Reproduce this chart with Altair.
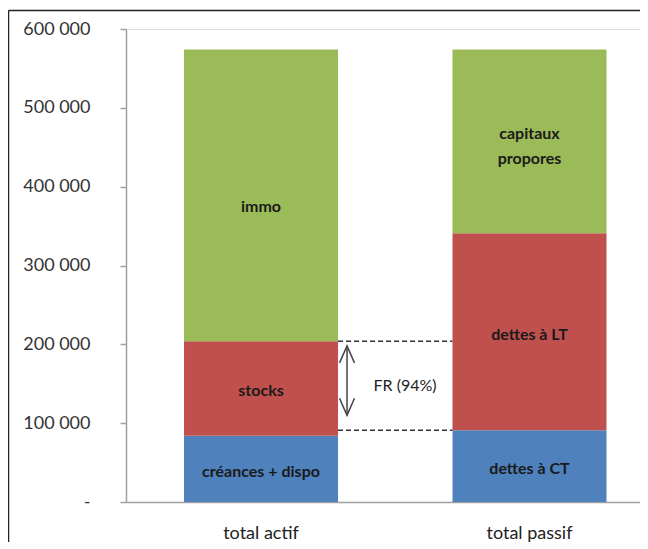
import altair as alt
import pandas as pd

categories = ["total actif", "total actif", "total actif",
              "total passif", "total passif", "total passif"]
segments = ["créances + dispo", "stocks", "immo",
            "dettes à CT", "dettes à LT", "capitaux\npropores"]
values = [84000, 120000, 370000, 91000, 250000, 233000]
levels = [1, 2, 3, 1, 2, 3]
colors = ["#4F81BD", "#C0504D", "#9BBB59"]
y_ticks = [0, 100000, 200000, 300000, 400000, 500000, 600000]
fr_label = "FR (94%)"
arrow_tips = [198000, 110000]

df = pd.DataFrame({"cat": categories, "seg": segments, "val": values, "lvl": levels})

fr_top = values[0] + values[1]
fr_bottom = values[3]
fr_df = pd.DataFrame({"from": ["total actif", "total actif"],
                      "to": ["total passif", "total passif"],
                      "y": [fr_top, fr_bottom]})
arrow_df = pd.DataFrame({"from": ["total actif"], "y": [arrow_tips[0]], "y2": [arrow_tips[1]]})
fr_text_df = pd.DataFrame({"from": ["total actif"], "y": [(fr_top + fr_bottom) / 2], "t": [fr_label]})

FONT = "Lato"
xscale = alt.Scale(paddingInner=0.4264, paddingOuter=0.1704, align=0.634)
yscale = alt.Scale(domain=[0, 600000], nice=False)

bars = alt.Chart(df).mark_bar().encode(
    x=alt.X("cat:N", scale=xscale, title=None,
            axis=alt.Axis(labelAngle=0, labelFontSize=18, labelColor="#222",
                          labelPadding=22, ticks=False, domainColor="#A0A0A0",
                          domainWidth=1.5, labelFont=FONT)),
    y=alt.Y("val:Q", stack="zero", scale=yscale, title=None,
            axis=alt.Axis(values=y_ticks, grid=False, labelFontSize=18, labelColor="#333",
                          labelFont=FONT, tickSize=6, tickColor="#A0A0A0", tickWidth=1.5,
                          domainColor="#A0A0A0", domainWidth=1.5, labelPadding=30,
                          labelExpr="datum.value == 0 ? '-\u00a0\u00a0' : replace(format(datum.value, ','), ',', ' ')")),
    color=alt.Color("lvl:O", scale=alt.Scale(domain=[1, 2, 3], range=colors), legend=None),
    order=alt.Order("lvl:O", sort="ascending"),
)

label_base = alt.Chart(df).transform_stack(
    stack="val", as_=["y0", "y1"], groupby=["cat"],
    sort=[alt.SortField("lvl", order="ascending")]
).transform_calculate(mid="(datum.y0 + datum.y1) / 2")

def label_layer(filter_expr, dy):
    return label_base.transform_filter(filter_expr).mark_text(
        font=FONT, fontSize=16, fontWeight="bold", color="#1a1a1a",
        baseline="middle", lineBreak="\n", lineHeight=25, dy=dy
    ).encode(
        x=alt.X("cat:N", scale=xscale),
        y=alt.Y("mid:Q", scale=yscale),
        text="seg:N",
    )

labels_low = label_layer("datum.lvl < 3", 3)
labels_actif_top = label_layer("datum.lvl == 3 && datum.cat == 'total actif'", 12)
labels_passif_top = label_layer("datum.lvl == 3 && datum.cat == 'total passif'", -7)

dashes = alt.Chart(fr_df).mark_rule(strokeDash=[5, 3], color="#333", strokeWidth=1.5).encode(
    x=alt.X("from:N", bandPosition=1, scale=xscale),
    x2=alt.X2("to:N", bandPosition=0),
    y=alt.Y("y:Q", scale=yscale),
)

shaft = alt.Chart(arrow_df).mark_rule(color="#444", strokeWidth=1.5, xOffset=9).encode(
    x=alt.X("from:N", bandPosition=1, scale=xscale),
    y=alt.Y("y:Q", scale=yscale),
    y2="y2:Q",
)

head_up = alt.Chart(arrow_df).mark_point(
    shape="M-0.44,1 L0,0 L0.44,1", size=1156, filled=False,
    color="#444", strokeWidth=1.5, xOffset=9, opacity=1
).encode(
    x=alt.X("from:N", bandPosition=1, scale=xscale),
    y=alt.Y("y:Q", scale=yscale),
)

head_down = alt.Chart(arrow_df).mark_point(
    shape="M-0.44,-1 L0,0 L0.44,-1", size=1156, filled=False,
    color="#444", strokeWidth=1.5, xOffset=9, opacity=1
).encode(
    x=alt.X("from:N", bandPosition=1, scale=xscale),
    y=alt.Y("y2:Q", scale=yscale),
)

fr_text = alt.Chart(fr_text_df).mark_text(
    font=FONT, fontSize=16, color="#222", baseline="middle", dx=67
).encode(
    x=alt.X("from:N", bandPosition=1, scale=xscale),
    y=alt.Y("y:Q", scale=yscale),
    text="t:N",
)

frame_left = alt.Chart(arrow_df).mark_rule(color="#222", strokeWidth=1.5).encode(
    x=alt.value(-117.5), y=alt.value(-18.5), y2=alt.value(520)
)
frame_top = alt.Chart(arrow_df).mark_rule(color="#222", strokeWidth=1.5).encode(
    x=alt.value(-117.5), x2=alt.value(514), y=alt.value(-18.5)
)

chart = alt.layer(
    bars, labels_low, labels_actif_top, labels_passif_top, dashes, shaft,
    head_up, head_down, fr_text, frame_left, frame_top
).properties(
    width=514, height=473,
    autosize=alt.AutoSizeParams(type="none"),
    padding={"left": 118, "top": 21, "right": 0, "bottom": 40},
).configure_view(stroke=None).configure(font=FONT)

chart.save("out.html", embed_options={"renderer": "svg", "actions": False})
